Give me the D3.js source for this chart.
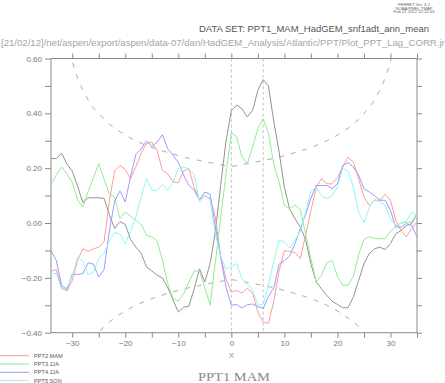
<!DOCTYPE html>
<html><head><meta charset="utf-8">
<script src="https://cdn.jsdelivr.net/npm/d3@7"></script>
<style>body{margin:0;background:#fff}svg{display:block}</style>
</head><body>
<script>
// ---- data ----
const lags = d3.range(-34, 36);
const seriesNames = ["PPT1 MAM (ref)", "PPT2 MAM", "PPT3 JJA", "PPT4 JJA", "PPT5 SON"];
const gray = [0.235,0.235,0.255,0.215,0.19,0.135,0.075,0.092,0.092,0.092,0.09,0.03,-0.02,0.005,-0.005,-0.06,-0.088,-0.11,-0.16,-0.175,-0.19,-0.2,-0.235,-0.28,-0.325,-0.307,-0.303,-0.24,-0.167,-0.215,-0.148,-0.03,0.14,0.30,0.41,0.43,0.417,0.387,0.41,0.484,0.523,0.50,0.37,0.26,0.13,0.05,0.016,-0.015,-0.06,-0.15,-0.215,-0.24,-0.264,-0.285,-0.297,-0.309,-0.309,-0.27,-0.209,-0.148,-0.112,-0.094,-0.088,-0.097,-0.075,-0.039,-0.027,-0.009,-0.002,0.034];
const ppt2 = [-0.175,-0.17,-0.235,-0.248,-0.21,-0.136,-0.094,-0.103,-0.094,-0.088,-0.069,0.08,0.19,0.21,0.195,0.162,0.205,0.255,0.29,0.295,0.265,0.192,0.18,0.15,0.147,0.19,0.198,0.13,0.085,0.1,0.089,0.02,-0.124,-0.203,-0.252,-0.246,-0.255,-0.238,-0.255,-0.325,-0.361,-0.366,-0.285,-0.175,-0.1,-0.104,-0.108,-0.13,-0.045,0.045,0.131,0.162,0.143,0.143,0.165,0.204,0.24,0.222,0.16,0.095,0.064,0.083,0.083,0.105,0.083,0.01,-0.027,-0.05,-0.02,0.004];
const ppt3 = [0.14,0.175,0.204,0.18,0.148,0.085,0.058,0.115,0.165,0.217,0.16,0.105,0.095,0.016,0.04,0.025,0.01,-0.005,-0.045,-0.05,-0.065,-0.135,-0.22,-0.275,-0.285,-0.258,-0.215,-0.175,-0.175,-0.235,-0.30,-0.14,0.02,0.18,0.33,0.314,0.241,0.216,0.277,0.344,0.38,0.326,0.215,0.15,0.064,0.052,0.066,0.05,-0.04,-0.13,-0.215,-0.19,-0.145,-0.136,-0.195,-0.227,-0.227,-0.195,-0.115,-0.06,-0.05,-0.057,-0.057,-0.057,-0.03,-0.012,0.0,0.003,0.004,0.034];
const ppt4 = [-0.1,-0.136,-0.227,-0.243,-0.187,-0.187,-0.185,-0.145,-0.15,-0.197,-0.17,-0.03,0.08,0.117,0.077,0.17,0.25,0.27,0.3,0.28,0.295,0.322,0.271,0.247,0.222,0.174,0.137,0.12,0.085,0.113,0.105,-0.015,-0.124,-0.233,-0.3,-0.297,-0.31,-0.298,-0.295,-0.305,-0.312,-0.267,-0.237,-0.15,-0.137,-0.12,-0.075,-0.02,0.03,0.09,0.137,0.137,0.137,0.125,0.143,0.21,0.22,0.204,0.174,0.125,0.113,0.1,0.083,0.083,0.046,-0.015,-0.015,-0.002,-0.009,-0.051];
const ppt5 = [-0.187,-0.183,-0.243,-0.235,-0.195,-0.125,-0.14,-0.187,-0.18,-0.13,-0.11,-0.065,-0.035,-0.04,-0.075,-0.03,0.022,0.095,0.162,0.119,0.119,0.14,0.119,0.15,0.198,0.204,0.198,0.177,0.077,0.1,0.085,-0.04,-0.124,-0.167,-0.158,-0.148,-0.203,-0.224,-0.243,-0.30,-0.296,-0.225,-0.14,-0.063,-0.069,-0.092,-0.063,-0.03,0.04,0.115,0.13,0.1,0.089,0.1,0.131,0.2,0.19,0.131,0.04,0.0,0.058,0.085,0.077,0.065,0.015,-0.009,-0.002,0.008,0.04,0.028];
const sigLags = [-32,-31,-30,-29,-28,-27,-26,-25,-24,-22,-20,-18,-16,-14,-12,-10,-8,-6,-4,-2,0,2,4,6,8,10,12,14,16,18,20,22,24,25,26,27,28,29,30,31,32];
const sigVals = [0.80,0.68,0.59,0.53,0.485,0.45,0.42,0.40,0.378,0.346,0.321,0.30,0.283,0.269,0.257,0.246,0.236,0.228,0.22,0.213,0.207,0.213,0.22,0.228,0.236,0.246,0.257,0.269,0.283,0.30,0.321,0.346,0.378,0.40,0.42,0.45,0.485,0.53,0.59,0.68,0.80];
const refLags = [0, 6];
const xTicks = [-30,-25,-20,-15,-10,-5,0,5,10,15,20,25,30,35];
const xLabels = [-30,-20,-10,0,10,20,30];
const yTicks = [-0.4,-0.3,-0.2,-0.1,0,0.1,0.2,0.3,0.4,0.5,0.6];
const yLabels = [-0.4,-0.2,0,0.2,0.4,0.6];
const legendNames = ["PPT2 MAM","PPT3 JJA","PPT4 JJA","PPT5 SON"];

// ---- drawing ----
const W = 445, H = 383;
const L = 51, R = 417, T = 58.5, B = 332.7;
const svg = d3.select("body").append("svg").attr("width", W).attr("height", H);
const x = d3.scaleLinear().domain([-34, 35]).range([L, R]);
const y = d3.scaleLinear().domain([-0.4, 0.6]).range([B, T]);
const axisColor = "#8a8a8a", textColor = "#777";
const font = "Liberation Sans, Arial, sans-serif";

svg.append("defs").append("clipPath").attr("id","clip")
  .append("rect").attr("x",L).attr("y",T).attr("width",R-L).attr("height",B-T);

// header texts
const hdr = svg.append("g").attr("font-family", font).attr("fill", "#666").attr("font-size", 4.2).attr("text-anchor","middle");
hdr.append("text").attr("x",414).attr("y",6).text("FERRET Ver. 6.1");
hdr.append("text").attr("x",414).attr("y",9.6).text("NOAA/PMEL TMAP");
hdr.append("text").attr("x",414).attr("y",13.2).text("Feb 21 2012 12:12:46");
svg.append("text").attr("x",199).attr("y",32).attr("font-family",font).attr("font-size",9.5)
  .attr("fill","#555").attr("textLength",230).attr("lengthAdjust","spacingAndGlyphs")
  .text("DATA SET: PPT1_MAM_HadGEM_snf1adt_ann_mean");
svg.append("text").attr("x",1).attr("y",46).attr("font-family",font).attr("font-size",9.5)
  .attr("fill","#a5a5a5").attr("textLength",448).attr("lengthAdjust","spacingAndGlyphs")
  .text("[21/02/12]/net/aspen/export/aspen/data-07/dan/HadGEM_Analysis/Atlantic/PPT/Plot_PPT_Lag_CORR.jnl");

// axes
function styleAxis(g){
  g.select(".domain").remove();
  g.selectAll("line").attr("stroke", axisColor);
  g.selectAll("text").attr("fill", textColor).attr("font-family", font).attr("font-size", 8);
}
const fmtX = v => xLabels.includes(v) ? d3.format("d")(v) : "";
const fmtY = v => yLabels.some(l => Math.abs(l - v) < 1e-9) ? d3.format(".2f")(v) : "";
svg.append("g").attr("transform",`translate(0,${B})`)
  .call(d3.axisBottom(x).tickValues(xTicks).tickSize(5).tickPadding(3).tickFormat(fmtX)).call(styleAxis);
svg.append("g").attr("transform",`translate(0,${T})`)
  .call(d3.axisTop(x).tickValues(xTicks).tickSize(5).tickFormat("")).call(styleAxis);
svg.append("g").attr("transform",`translate(${L},0)`)
  .call(d3.axisLeft(y).tickValues(yTicks).tickSize(6).tickPadding(3).tickFormat(fmtY)).call(styleAxis);
svg.append("g").attr("transform",`translate(${R},0)`)
  .call(d3.axisRight(y).tickValues(yTicks).tickSize(5).tickFormat("")).call(styleAxis);
svg.append("rect").attr("x",L).attr("y",T).attr("width",R-L).attr("height",B-T)
  .attr("fill","none").attr("stroke",axisColor).attr("stroke-width",1);

// reference vertical dashed lines
svg.append("g").selectAll("line").data(refLags).join("line")
  .attr("x1",d=>x(d)).attr("x2",d=>x(d)).attr("y1",T).attr("y2",B)
  .attr("stroke","#b5b5b5").attr("stroke-width",0.8).attr("stroke-dasharray","3,2.5");

// significance curves
const plot = svg.append("g").attr("clip-path","url(#clip)");
const sigLine = d3.line().x((d,i)=>x(sigLags[i])).y(d=>y(d)).curve(d3.curveMonotoneX);
plot.append("path").attr("d", sigLine(sigVals)).attr("fill","none")
  .attr("stroke","#a0a0a0").attr("stroke-width",0.9).attr("stroke-dasharray","5,7");
plot.append("path").attr("d", sigLine(sigVals.map(v=>-v))).attr("fill","none")
  .attr("stroke","#a0a0a0").attr("stroke-width",0.9).attr("stroke-dasharray","5,7");

// series
const series = [gray, ppt2, ppt3, ppt4, ppt5];
const colors = ["#929292", "#ff9a9a", "#8fef8f", "#9a9aff", "#8ff5f5"];
const line = d3.line().x((d,i)=>x(lags[i])).y(d=>y(d));
plot.selectAll("path.s").data(series).join("path").attr("class","s")
  .attr("d", d=>line(d)).attr("fill","none")
  .attr("stroke",(d,i)=>colors[i]).attr("stroke-width",1);

// x label
svg.append("text").attr("x",x(0)).attr("y",358).attr("text-anchor","middle")
  .attr("font-family",font).attr("font-size",8).attr("fill","#888").text("X");

// legend
const lg = svg.append("g");
const ly = [355.7, 364, 372.3, 380.6];
legendNames.forEach((n,i)=>{
  lg.append("line").attr("x1",0).attr("x2",29).attr("y1",ly[i]).attr("y2",ly[i])
    .attr("stroke",colors[i+1]).attr("stroke-width",1);
  lg.append("text").attr("x",34).attr("y",ly[i]+2).attr("font-family",font)
    .attr("font-size",5.6).attr("fill","#555").text(n);
});

// bottom title
svg.append("text").attr("x",234).attr("y",380.5).attr("text-anchor","middle")
  .attr("font-family","Liberation Serif, Times New Roman, serif").attr("font-size",13.5)
  .attr("fill","#8a8a8a").attr("textLength",72).attr("lengthAdjust","spacingAndGlyphs").text("PPT1 MAM");
</script>
</body></html>
